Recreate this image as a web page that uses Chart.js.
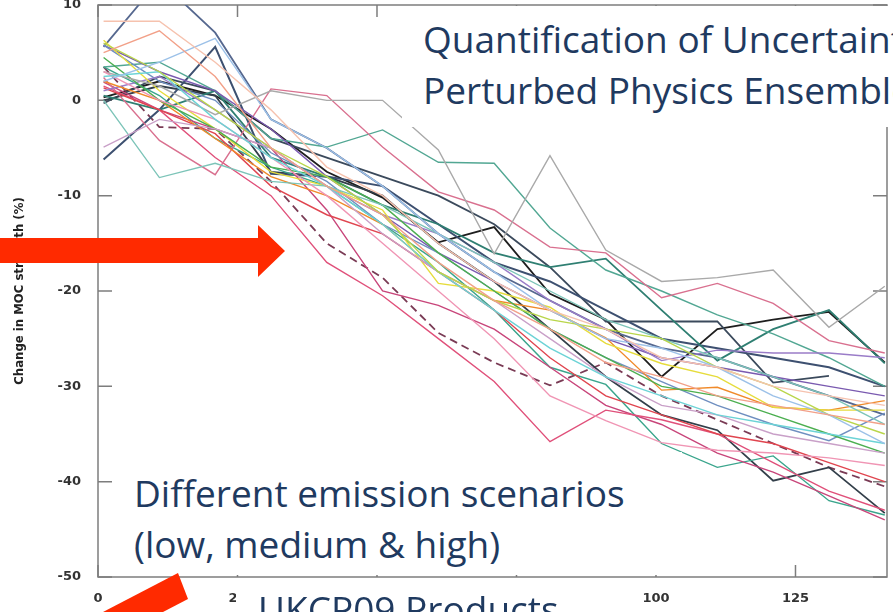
<!DOCTYPE html>
<html>
<head>
<meta charset="utf-8">
<script src="https://cdn.jsdelivr.net/npm/chart.js@4.4.1/dist/chart.umd.min.js"></script>
<style>
html, body { margin: 0; padding: 0; background: #fff; overflow: hidden; }
#wrap { position: relative; width: 893px; height: 612px; }
#c { position: absolute; left: 0; top: 0; }
.box { position: absolute; background: #fff; font-family: "Open Sans", Lato, sans-serif; color: #1f3a60;
       font-size: 37px; line-height: 51px; white-space: nowrap; overflow: hidden; }
svg { position: absolute; left: 0; top: 0; }
</style>
</head>
<body>
<div id="wrap">
  <canvas id="c" width="893" height="612"></canvas>
  <div class="box" style="left:402px; top:6px; width:491px; height:121px;">
    <div style="position:absolute; left:21px; top:7px;">Quantification of Uncertainty in<br>Perturbed Physics Ensembles</div>
  </div>
  <div class="box" style="left:113px; top:452px; width:569px; height:123px;">
    <div style="position:absolute; left:21px; top:15px;">Different emission scenarios<br>(low, medium &amp; high)</div>
  </div>
  <div class="box" style="left:236px; top:578px; width:384px; height:34px;">
    <div style="position:absolute; left:22px; top:5px;">UKCP09 Products</div>
  </div>
  <svg width="893" height="612">
    <polygon points="0,238 258,238 258,225 285,251 258,277 258,263 0,263" fill="#ff2a00"/>
    <polygon points="178,573 188,599 38,677 28,651" fill="#ff2a00"/>
  </svg>
</div>
<script>
// model years (decadal points)
const years = [1, 11, 21, 31, 41, 51, 61, 71, 81, 91, 101, 111, 121, 131, 141];

// ensemble members, change in MOC strength (%)
const greySpike   = [3.0, 1.5, -1.5, 1.0, 0.0, 0.0, -5.2, -16.1, -5.8, -15.7, -19.0, -18.6, -17.8, -23.8, -19.5];
const tealHigh    = [3.5, 4.0, 1.0, -4.0, -4.9, -3.1, -6.5, -6.6, -13.4, -17.8, -20.0, -22.5, -24.5, -27.0, -30.0];
const pinkA       = [2.4, -4.2, -7.8, 1.2, 0.5, -4.9, -9.6, -11.5, -15.4, -16.0, -20.7, -19.2, -21.3, -25.2, -26.5];
const black       = [0.3, 2.0, 0.5, -3.0, -7.5, -10.2, -14.9, -13.3, -20.3, -23.0, -29.0, -24.0, -23.0, -22.2, -27.5];
const slateEnd    = [-0.3, 2.5, 1.0, -4.0, -6.0, -8.0, -10.0, -13.0, -17.5, -23.2, -23.2, -23.2, -29.6, -28.9, null];
const dashed      = [3.5, -2.8, -3.0, -8.5, -15.0, -18.6, -24.4, -27.5, -29.9, -27.5, -31.0, -33.5, -36.0, -38.5, -40.5];
const pinkLow     = [1.5, -1.0, -6.0, -10.0, -17.0, -20.5, -25.0, -29.5, -35.8, -32.5, -33.5, -35.0, -38.0, -41.0, -43.0];
const magenta     = [1.9, -1.0, -3.0, -5.0, -11.5, -20.0, -21.5, -24.0, -28.0, -32.0, -34.0, -37.0, -39.0, -41.5, -44.0];
const yellow      = [6.3, 1.0, -3.0, -7.5, -9.0, -11.5, -19.2, -20.0, -21.7, -25.5, -27.6, -29.0, -32.2, -32.5, -32.5];
const orange      = [2.0, 0.0, -4.0, -8.0, -10.0, -13.0, -18.0, -21.0, -22.0, -24.9, -30.4, -30.1, -32.2, -32.5, -31.5];
const lilac       = [1.0, 2.5, -1.0, -5.0, -9.0, -12.0, -14.0, -17.0, -21.0, -24.0, -27.3, -26.2, -26.5, -26.5, -27.0];
const steel       = [5.8, 2.0, 0.0, -5.5, -8.5, -13.0, -16.0, -20.0, -24.0, -27.0, -29.5, -32.0, -34.0, -35.7, -32.8];
const darkTeal    = [0.5, -1.0, 1.0, -6.0, -8.0, -11.0, -13.0, -16.0, -17.5, -16.6, -22.0, -27.3, -24.0, -22.0, -27.6];
const darkGrey    = [0.0, 1.5, 0.5, -7.5, -8.0, -10.0, -15.0, -19.0, -24.0, -29.0, -33.0, -34.6, -39.9, -38.5, -43.3];
const tealLow     = [3.5, 0.5, -4.0, -7.0, -9.0, -13.0, -17.0, -22.0, -28.0, -29.8, -36.0, -38.5, -37.3, -42.0, -43.5];
const pinkSoft    = [3.0, 0.0, -2.0, -6.0, -10.0, -15.0, -20.0, -25.0, -31.0, -33.6, -35.9, -36.7, -37.0, -37.5, -38.3];
const red         = [1.3, -1.0, -3.5, -9.0, -12.0, -14.0, -18.0, -22.0, -27.0, -31.0, -33.0, -35.0, -36.0, -38.0, -40.0];
const lightBlue   = [2.0, 4.0, 6.5, -2.0, -5.0, -9.0, -14.0, -18.0, -22.0, -25.0, -26.0, -28.0, -31.0, -33.0, -36.0];
const navy        = [5.6, 12.6, 7.1, -2.0, -5.0, -9.0, -14.0, -18.0, -21.0, -24.0, -26.0, -27.0, -29.0, -31.0, -33.0];
const green       = [4.5, 0.0, -3.0, -7.0, -8.0, -11.0, -16.0, -20.0, -24.0, -27.0, -30.0, -31.0, -33.0, -35.0, -37.0];
const peach       = [5.0, 7.3, 2.5, -5.0, -9.0, -12.0, -17.0, -21.0, -24.0, -27.5, -29.0, -31.0, -32.0, -33.0, -34.0];
const salmon      = [8.3, 8.3, 4.0, -1.0, -7.0, -10.0, -15.0, -19.0, -22.0, -24.0, -27.0, -28.0, -30.0, -31.0, -32.0];
const slateA      = [-6.2, -1.0, 5.6, -7.7, -8.0, -9.0, -13.0, -17.0, -19.0, -22.0, -25.0, -26.0, -27.0, -28.0, -30.0];
const lightTeal   = [0.0, -8.1, -6.6, -8.5, -9.0, -11.0, -14.0, -17.0, -20.0, -23.0, -25.0, -27.0, -29.0, -31.0, -34.0];
const cyan        = [2.5, 3.0, -2.0, -6.0, -9.0, -13.0, -18.0, -22.0, -26.0, -29.0, -31.0, -33.0, -34.0, -35.0, -36.0];
const violet      = [5.8, 3.0, 1.0, -3.0, -8.0, -12.0, -16.0, -19.0, -22.0, -25.0, -27.0, -28.0, -29.0, -30.0, -31.0];
const mauve       = [-4.9, -2.0, -3.0, -5.0, -9.0, -14.0, -18.0, -21.0, -25.0, -29.0, -32.0, -33.0, -35.0, -36.0, -37.0];
const yellowGreen = [6.0, 3.0, -1.0, -5.0, -8.0, -12.0, -18.0, -21.0, -23.0, -24.0, -25.0, -28.0, -30.0, -33.0, -35.0];

const yTicks = [10, 0, -10, -20, -30, -40, -50];
const xTicks = [0, 25, 50, 75, 100, 125];

const members = [
  { data: salmon, color: '#f6c2ae' },
  { data: peach, color: '#f2a088' },
  { data: lightBlue, color: '#9cc1e8' },
  { data: yellowGreen, color: '#b9d64a' },
  { data: cyan, color: '#6cd3d6' },
  { data: mauve, color: '#c9a0c8' },
  { data: pinkSoft, color: '#f095b4' },
  { data: greySpike, color: '#a9a9a9' },
  { data: lightTeal, color: '#7cc4b8' },
  { data: green, color: '#4caf50' },
  { data: yellow, color: '#e6dc3c' },
  { data: orange, color: '#f08a2a' },
  { data: lilac, color: '#9a7cc8' },
  { data: steel, color: '#6f8fc0' },
  { data: violet, color: '#7a5ab0' },
  { data: red, color: '#e0454f' },
  { data: pinkA, color: '#d9708f' },
  { data: pinkLow, color: '#e0507a' },
  { data: magenta, color: '#c8457a' },
  { data: tealHigh, color: '#52a793' },
  { data: tealLow, color: '#3aa58c' },
  { data: darkTeal, color: '#2f7f72', width: 1.8 },
  { data: navy, color: '#56688f', width: 1.8 },
  { data: slateA, color: '#3d5070', width: 2 },
  { data: darkGrey, color: '#333f4a', width: 1.8 },
  { data: slateEnd, color: '#3b4a5c', width: 1.8 },
  { data: dashed, color: '#7a3b55', width: 1.8, dash: [8, 5] },
  { data: black, color: '#1e1e1e', width: 1.8 },
];

// matlab-style frame with inward ticks
const frame = {
  id: 'frame',
  beforeDatasetsDraw(chart) {
    const { ctx, chartArea: a, scales: { x, y } } = chart;
    ctx.save();
    ctx.strokeStyle = '#7d7d7d';
    ctx.lineWidth = 1.5;
    ctx.strokeRect(a.left, a.top, a.right - a.left, a.bottom - a.top);
    ctx.beginPath();
    xTicks.forEach(v => {
      const px = x.getPixelForValue(v);
      ctx.moveTo(px, a.top); ctx.lineTo(px, a.top + 12);
      ctx.moveTo(px, a.bottom); ctx.lineTo(px, a.bottom - 12);
    });
    yTicks.forEach(v => {
      const py = y.getPixelForValue(v);
      ctx.moveTo(a.left, py); ctx.lineTo(a.left + 14, py);
      ctx.moveTo(a.right, py); ctx.lineTo(a.right - 14, py);
    });
    ctx.stroke();
    ctx.restore();
  }
};

const tickFont = { family: 'DejaVu Sans', size: 13, weight: 'bold' };

new Chart(document.getElementById('c'), {
  type: 'line',
  data: {
    datasets: members.map(m => ({
      data: years.map((yr, i) => ({ x: yr, y: m.data[i] })),
      borderColor: m.color,
      borderWidth: m.width || 1.4,
      borderDash: m.dash || [],
      pointRadius: 0,
      tension: 0,
    }))
  },
  options: {
    responsive: false,
    animation: false,
    devicePixelRatio: 1,
    layout: { padding: { top: 5, right: 6, left: 0, bottom: 0 } },
    plugins: { legend: { display: false }, tooltip: { enabled: false } },
    scales: {
      x: {
        type: 'linear', min: 0, max: 141.4,
        afterBuildTicks: s => { s.ticks = xTicks.map(v => ({ value: v })); },
        afterFit: s => { s.height = 35; s.paddingLeft = 0; s.paddingRight = 0; },
        grid: { display: false, drawTicks: false },
        border: { display: false },
        ticks: { padding: 14, color: '#333', font: tickFont, maxRotation: 0 }
      },
      y: {
        min: -50, max: 10,
        afterBuildTicks: s => { s.ticks = yTicks.map(v => ({ value: v })); },
        afterFit: s => { s.width = 98; s.paddingTop = 0; s.paddingBottom = 0; },
        grid: { display: false, drawTicks: false },
        border: { display: false },
        ticks: { padding: 17, color: '#333', font: tickFont },
        title: {
          display: true, text: 'Change in MOC strength (%)', color: '#222',
          padding: { top: 12, bottom: 0 },
          font: { family: 'DejaVu Sans Condensed', size: 13, weight: 'bold' }
        }
      }
    }
  },
  plugins: [frame]
});
</script>
</body>
</html>
